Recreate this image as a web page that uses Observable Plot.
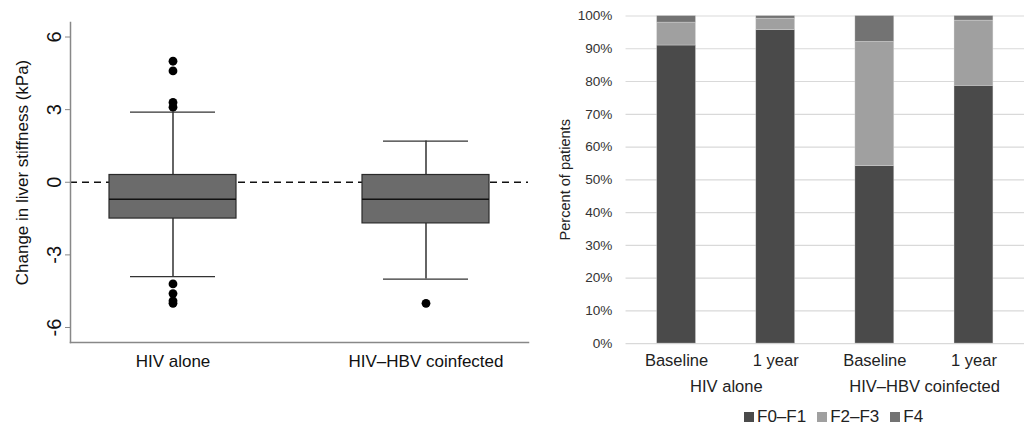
<!DOCTYPE html>
<html>
<head>
<meta charset="utf-8">
<script src="https://cdn.jsdelivr.net/npm/d3@7"></script>
<script src="https://cdn.jsdelivr.net/npm/@observablehq/plot@0.6"></script>
<style>
  html, body { margin: 0; padding: 0; background: #fff; overflow: hidden; }
  #wrap { position: relative; width: 1024px; height: 427px; overflow: hidden; font-family: "Liberation Sans", Arial, sans-serif; }
  #left { position: absolute; left: 0; top: 0; }
  #right { position: absolute; left: 540px; top: 0; }
  #legend { position: absolute; left: 744px; top: 407px; }
  .lg-swatches { font-family: "Liberation Sans", Arial, sans-serif !important; font-size: 17px !important; color: #222 !important; margin: 0 !important; min-height: 0 !important; }
  .lg-swatches .lg-swatch { margin-right: 11px !important; }
  .lg-swatches .lg-swatch > svg { margin-right: 3px !important; }
</style>
</head>
<body>
<div id="wrap">
  <div id="left"></div>
  <div id="right"></div>
  <div id="legend"></div>
</div>
<script>
// ---- Left panel: change in liver stiffness (box plot summary) ----
const groups = ["HIV alone", "HIV\u2013HBV coinfected"];
const q1 = [-1.5, -1.7];
const medians = [-0.7, -0.7];
const q3 = [0.3, 0.3];
const whiskerLow = [-3.9, -4.0];
const whiskerHigh = [2.9, 1.7];
const outlierGroup = ["HIV alone","HIV alone","HIV alone","HIV alone","HIV alone","HIV alone","HIV alone","HIV alone","HIV\u2013HBV coinfected"];
const outlierValue = [5.0, 4.6, 3.3, 3.1, -4.2, -4.6, -4.9, -5.0, -5.0];
const leftTicks = [-6, -3, 0, 3, 6];
const leftTitle = "Change in liver stiffness (kPa)";

// ---- Right panel: fibrosis stage distribution ----
const cohorts = ["HIV alone", "HIV\u2013HBV coinfected"];
const times = ["Baseline", "1 year"];
const stages = ["F0\u2013F1", "F2\u2013F3", "F4"];
const stageColors = ["#4a4a4a", "#a0a0a0", "#737373"];
// percent per bar: [HIV Baseline, HIV 1 year, HBV Baseline, HBV 1 year]
const pctF0F1 = [91.0, 95.7, 54.2, 78.7];
const pctF2F3 = [7.0, 3.5, 37.9, 19.9];
const pctF4 = [2.0, 0.8, 7.9, 1.4];
const rightTicks = [0, 10, 20, 30, 40, 50, 60, 70, 80, 90, 100];
const rightTitle = "Percent of patients";

const font = "Liberation Sans, Arial, sans-serif";

// Build summary table for left
const boxes = groups.map((g, i) => ({group: g, q1: q1[i], med: medians[i], q3: q3[i], lo: whiskerLow[i], hi: whiskerHigh[i]}));
const outliers = outlierGroup.map((g, i) => ({group: g, value: outlierValue[i]}));

const left = Plot.plot({
  width: 530,
  height: 427,
  marginLeft: 70,
  marginRight: 2,
  marginTop: 22,
  marginBottom: 85,
  style: {fontFamily: font, fontSize: "16px", color: "#111", background: "transparent", overflow: "visible"},
  x: {domain: groups, paddingInner: 0.5, paddingOuter: 0.153, label: null},
  y: {domain: [-6.62, 6.6], label: null},
  marks: [
    Plot.ruleY([0], {stroke: "#111", strokeWidth: 1.3, strokeDasharray: "7,5"}),
    Plot.ruleX(boxes, {x: "group", y1: "q3", y2: "hi", stroke: "#111", strokeWidth: 1.3}),
    Plot.ruleX(boxes, {x: "group", y1: "lo", y2: "q1", stroke: "#111", strokeWidth: 1.3}),
    Plot.tickY(boxes, {x: "group", y: "hi", stroke: "#333", strokeWidth: 1.3, inset: 21}),
    Plot.tickY(boxes, {x: "group", y: "lo", stroke: "#333", strokeWidth: 1.3, inset: 21}),
    Plot.barY(boxes, {x: "group", y1: "q1", y2: "q3", fill: "#6b6b6b", stroke: "#2a2a2a", strokeWidth: 1.2}),
    Plot.tickY(boxes, {x: "group", y: "med", stroke: "#111", strokeWidth: 1.6}),
    Plot.dot(outliers, {x: "group", y: "value", r: 4.4, fill: "#000", stroke: null}),
    Plot.axisY({ticks: leftTicks, tickSize: 5, stroke: "#888", tickFormat: () => "", label: null}),
    Plot.text(leftTicks, {y: d => d, text: d => String(d), frameAnchor: "left", textAnchor: "middle", dx: -16, rotate: -90, fontSize: 20, fill: "#111"}),
    Plot.text([leftTitle], {frameAnchor: "left", textAnchor: "middle", dx: -48, dy: -10, rotate: -90, fontSize: 17, fill: "#111"}),
    Plot.axisX({tickSize: 0, tickPadding: 12, fontSize: 17, label: null, fill: "#111"}),
    Plot.frame({anchor: "left", stroke: "#888", strokeWidth: 1.5}),
    Plot.frame({anchor: "bottom", stroke: "#888", strokeWidth: 1.5})
  ]
});
document.getElementById("left").appendChild(left);

// Build long table for right
const keys = [];
cohorts.forEach(c => times.forEach(t => keys.push(c + "|" + t)));
const series = [pctF0F1, pctF2F3, pctF4];
const stackData = [];
keys.forEach((k, i) => stages.forEach((s, j) => stackData.push({key: k, stage: s, value: series[j][i]})));
const groupLabels = cohorts.map(c => ({key: c + "|" + times[0], text: c}));

const right = Plot.plot({
  width: 498,
  height: 410,
  marginLeft: 88,
  marginRight: 0,
  marginTop: 16,
  marginBottom: 57,
  style: {fontFamily: font, fontSize: "14px", color: "#333", background: "transparent", overflow: "visible"},
  x: {domain: keys, paddingInner: 0.61, paddingOuter: 0.305, label: null},
  y: {domain: [0, 100], label: null},
  color: {domain: stages, range: stageColors},
  marks: [
    Plot.gridY(rightTicks, {stroke: "#d9d9d9", strokeOpacity: 1, strokeWidth: 1.2}),
    Plot.barY(stackData, {x: "key", y: "value", fill: "stage", stroke: "#e0e0e0", strokeWidth: 0.6, strokeOpacity: 0.6}),
    Plot.axisY({ticks: rightTicks, tickSize: 0, tickPadding: 14, tickFormat: d => d + "%", fontSize: 14, fill: "#333", label: null}),
    Plot.text([rightTitle], {frameAnchor: "left", textAnchor: "middle", dx: -62, rotate: -90, fontSize: 15, fill: "#222"}),
    Plot.axisX({tickSize: 0, tickPadding: 11, fontSize: 17, tickFormat: d => d.split("|")[1], fill: "#222", label: null}),
    Plot.text(groupLabels, {x: "key", text: "text", frameAnchor: "bottom", dx: 51.25, dy: 38, lineAnchor: "top", fontSize: 17, fill: "#222"})
  ]
});
document.getElementById("right").appendChild(right);

const legend = Plot.legend({
  color: {domain: stages, range: stageColors},
  swatchSize: 10,
  className: "lg"
});
document.getElementById("legend").appendChild(legend);
</script>
</body>
</html>
